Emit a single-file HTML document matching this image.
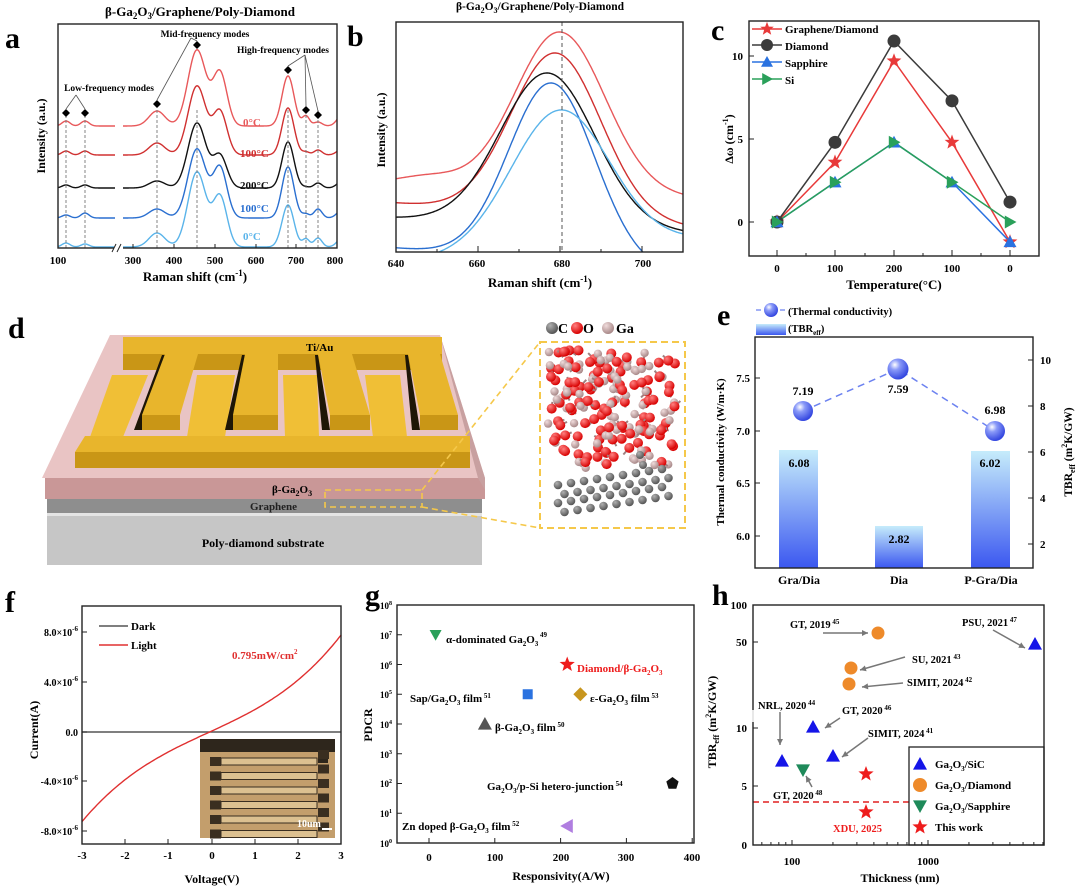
<!DOCTYPE html>
<html><head><meta charset="utf-8">
<style>
html,body{margin:0;padding:0;background:#fff;}
svg{display:block;font-family:"Liberation Serif",serif;font-weight:bold;}
</style></head><body>
<svg id="s" width="1080" height="888" viewBox="0 0 1080 888" xmlns="http://www.w3.org/2000/svg">
<defs>
<linearGradient id="bar" x1="0" y1="0" x2="0" y2="1"><stop offset="0" stop-color="#c6ecfb"/><stop offset="1" stop-color="#3b57f0"/></linearGradient>
<radialGradient id="sph" cx="0.35" cy="0.3" r="0.7"><stop offset="0" stop-color="#ffffff"/><stop offset="0.35" stop-color="#8a9af8"/><stop offset="1" stop-color="#3447e0"/></radialGradient>
<radialGradient id="bO" cx="0.35" cy="0.3" r="0.7"><stop offset="0" stop-color="#ff8080"/><stop offset="1" stop-color="#d80000"/></radialGradient>
<radialGradient id="bG" cx="0.35" cy="0.3" r="0.7"><stop offset="0" stop-color="#f0dcdc"/><stop offset="1" stop-color="#a88888"/></radialGradient>
<radialGradient id="bC" cx="0.35" cy="0.3" r="0.7"><stop offset="0" stop-color="#b0b0b0"/><stop offset="1" stop-color="#555"/></radialGradient>
<clipPath id="ca"><rect x="58" y="24" width="279" height="224"/></clipPath>
<clipPath id="cb"><rect x="396" y="22" width="287" height="230"/></clipPath>
</defs>
<g id="g"></g>

<!-- Panel a texts -->
<text x="5" y="48" font-size="30">a</text>
<text x="200" y="16" font-size="13" text-anchor="middle">β-Ga<tspan font-size="9" dy="3">2</tspan><tspan dy="-3">O</tspan><tspan font-size="9" dy="3">3</tspan><tspan dy="-3">/Graphene/Poly-Diamond</tspan></text>
<g font-size="9.5" text-anchor="middle">
<text x="109" y="91">Low-frequency modes</text>
<text x="205" y="37">Mid-frequency modes</text>
<text x="283" y="53">High-frequency modes</text>
</g>
<g font-size="11">
<text x="243" y="126" fill="#e8585a">0°C</text>
<text x="240" y="157" fill="#d03030">100°C</text>
<text x="240" y="189" fill="#111">200°C</text>
<text x="240" y="212" fill="#2a6fd0">100°C</text>
<text x="243" y="240" fill="#5ab4ea">0°C</text>
</g>
<g font-size="11" text-anchor="middle">
<text x="58" y="264">100</text><text x="133" y="264">300</text><text x="174" y="264">400</text><text x="215" y="264">500</text><text x="256" y="264">600</text><text x="296" y="264">700</text><text x="335" y="264">800</text>
<text x="195" y="281" font-size="13">Raman shift (cm<tspan font-size="9" dy="-5">-1</tspan><tspan dy="5">)</tspan></text>
</g>
<text transform="translate(45,136) rotate(-90)" font-size="12" text-anchor="middle">Intensity (a.u.)</text>

<!-- Panel b texts -->
<text x="347" y="46" font-size="30">b</text>
<text x="540" y="10" font-size="11.5" text-anchor="middle">β-Ga<tspan font-size="8" dy="3">2</tspan><tspan dy="-3">O</tspan><tspan font-size="8" dy="3">3</tspan><tspan dy="-3">/Graphene/Poly-Diamond</tspan></text>
<g font-size="11" text-anchor="middle">
<text x="396" y="267">640</text><text x="477" y="267">660</text><text x="562" y="267">680</text><text x="643" y="267">700</text>
<text x="540" y="287" font-size="13">Raman shift (cm<tspan font-size="9" dy="-5">-1</tspan><tspan dy="5">)</tspan></text>
</g>
<text transform="translate(385,130) rotate(-90)" font-size="12" text-anchor="middle">Intensity (a.u.)</text>

<!-- Panel c texts -->
<text x="711" y="40" font-size="30">c</text>
<g font-size="11">
<text x="785" y="33">Graphene/Diamond</text>
<text x="785" y="50">Diamond</text>
<text x="785" y="67">Sapphire</text>
<text x="785" y="84">Si</text>
</g>
<g font-size="11" text-anchor="end">
<text x="743" y="226">0</text><text x="743" y="143">5</text><text x="743" y="60">10</text>
</g>
<g font-size="11" text-anchor="middle">
<text x="777" y="272">0</text><text x="835" y="272">100</text><text x="894" y="272">200</text><text x="952" y="272">100</text><text x="1010" y="272">0</text>
<text x="894" y="289" font-size="13">Temperature(°C)</text>
</g>
<text transform="translate(733,139) rotate(-90)" font-size="12" text-anchor="middle">Δω (cm<tspan font-size="8" dy="-5">-1</tspan><tspan dy="5">)</tspan></text>

<!-- Panel d -->
<text x="8" y="338" font-size="30">d</text>

<!-- Panel e texts -->
<text x="717" y="325" font-size="30">e</text>
<g font-size="10.5">
<text x="788" y="315">(Thermal conductivity)</text>
<text x="788" y="332">(TBR<tspan font-size="7" dy="3">eff</tspan><tspan dy="-3">)</tspan></text>
</g>
<g font-size="11" text-anchor="end">
<text x="750" y="382">7.5</text><text x="750" y="435">7.0</text><text x="750" y="487">6.5</text><text x="750" y="540">6.0</text>
</g>
<g font-size="11">
<text x="1040" y="364">10</text><text x="1040" y="410">8</text><text x="1040" y="456">6</text><text x="1040" y="502">4</text><text x="1040" y="548">2</text>
</g>
<g font-size="12" text-anchor="middle">
<text x="803" y="395">7.19</text><text x="898" y="393">7.59</text><text x="995" y="414">6.98</text>
<text x="799" y="467">6.08</text><text x="899" y="543">2.82</text><text x="990" y="467">6.02</text>
<text x="799" y="584">Gra/Dia</text><text x="899" y="584">Dia</text><text x="991" y="584">P-Gra/Dia</text>
</g>
<text transform="translate(724,452) rotate(-90)" font-size="11" text-anchor="middle">Thermal conductivity (W/m·K)</text>
<text transform="translate(1072,452) rotate(-90)" font-size="11.5" text-anchor="middle">TBR<tspan font-size="8" dy="3">eff</tspan><tspan dy="-3"> (m</tspan><tspan font-size="8" dy="-5">2</tspan><tspan dy="5">K/GW)</tspan></text>

<!-- Panel f texts -->
<text x="5" y="612" font-size="30">f</text>
<g font-size="11">
<text x="131" y="630">Dark</text><text x="131" y="649">Light</text>
<text x="232" y="659" fill="#e03030" font-size="11">0.795mW/cm<tspan font-size="7" dy="-5">2</tspan></text>
</g>
<g font-size="10" text-anchor="end">
<text x="78" y="636">8.0×10<tspan font-size="7" dy="-5">-6</tspan></text>
<text x="78" y="686">4.0×10<tspan font-size="7" dy="-5">-6</tspan></text>
<text x="78" y="736">0.0</text>
<text x="78" y="785">-4.0×10<tspan font-size="7" dy="-5">-6</tspan></text>
<text x="78" y="835">-8.0×10<tspan font-size="7" dy="-5">-6</tspan></text>
</g>
<g font-size="11" text-anchor="middle">
<text x="82" y="859">-3</text><text x="125" y="859">-2</text><text x="168" y="859">-1</text><text x="212" y="859">0</text><text x="255" y="859">1</text><text x="298" y="859">2</text><text x="341" y="859">3</text>
<text x="212" y="883" font-size="12">Voltage(V)</text>
</g>
<text transform="translate(38,730) rotate(-90)" font-size="12" text-anchor="middle">Current(A)</text>

<!-- Panel g texts -->
<text x="365" y="605" font-size="30">g</text>
<g font-size="9" text-anchor="end">
<text x="392" y="609">10<tspan font-size="6" dy="-4">8</tspan></text>
<text x="392" y="639">10<tspan font-size="6" dy="-4">7</tspan></text>
<text x="392" y="669">10<tspan font-size="6" dy="-4">6</tspan></text>
<text x="392" y="698">10<tspan font-size="6" dy="-4">5</tspan></text>
<text x="392" y="728">10<tspan font-size="6" dy="-4">4</tspan></text>
<text x="392" y="758">10<tspan font-size="6" dy="-4">3</tspan></text>
<text x="392" y="787">10<tspan font-size="6" dy="-4">2</tspan></text>
<text x="392" y="817">10<tspan font-size="6" dy="-4">1</tspan></text>
<text x="392" y="847">10<tspan font-size="6" dy="-4">0</tspan></text>
</g>
<g font-size="11" text-anchor="middle">
<text x="429" y="861">0</text><text x="495" y="861">100</text><text x="561" y="861">200</text><text x="626" y="861">300</text><text x="692" y="861">400</text>
<text x="561" y="880" font-size="12">Responsivity(A/W)</text>
</g>
<text transform="translate(372,725) rotate(-90)" font-size="12" text-anchor="middle">PDCR</text>
<g font-size="11">
<text x="446" y="643">α-dominated Ga<tspan font-size="7" dy="3">2</tspan><tspan dy="-3">O</tspan><tspan font-size="7" dy="3">3</tspan><tspan font-size="7" dy="-9"> 49</tspan></text>
<text x="577" y="672" fill="#ee1c1c">Diamond/β-Ga<tspan font-size="7" dy="3">2</tspan><tspan dy="-3">O</tspan><tspan font-size="7" dy="3">3</tspan></text>
<text x="410" y="702">Sap/Ga<tspan font-size="7" dy="3">2</tspan><tspan dy="-3">O</tspan><tspan font-size="7" dy="3">3</tspan><tspan dy="-3"> film</tspan><tspan font-size="7" dy="-4"> 51</tspan></text>
<text x="590" y="702">ε-Ga<tspan font-size="7" dy="3">2</tspan><tspan dy="-3">O</tspan><tspan font-size="7" dy="3">3</tspan><tspan dy="-3"> film</tspan><tspan font-size="7" dy="-4"> 53</tspan></text>
<text x="495" y="731">β-Ga<tspan font-size="7" dy="3">2</tspan><tspan dy="-3">O</tspan><tspan font-size="7" dy="3">3</tspan><tspan dy="-3"> film</tspan><tspan font-size="7" dy="-4"> 50</tspan></text>
<text x="487" y="790">Ga<tspan font-size="7" dy="3">2</tspan><tspan dy="-3">O</tspan><tspan font-size="7" dy="3">3</tspan><tspan dy="-3">/p-Si hetero-junction</tspan><tspan font-size="7" dy="-4"> 54</tspan></text>
<text x="402" y="830">Zn doped β-Ga<tspan font-size="7" dy="3">2</tspan><tspan dy="-3">O</tspan><tspan font-size="7" dy="3">3</tspan><tspan dy="-3"> film</tspan><tspan font-size="7" dy="-4"> 52</tspan></text>
</g>

<!-- Panel h texts -->
<text x="712" y="605" font-size="30">h</text>
<g font-size="11" text-anchor="end">
<text x="747" y="609">100</text><text x="747" y="646">50</text><text x="747" y="732">10</text><text x="747" y="790">5</text><text x="747" y="849">0</text>
</g>
<g font-size="11" text-anchor="middle">
<text x="792" y="865">100</text><text x="928" y="865">1000</text>
<text x="900" y="882" font-size="12">Thickness (nm)</text>
</g>
<text transform="translate(716,722) rotate(-90)" font-size="12" text-anchor="middle">TBR<tspan font-size="8" dy="3">eff</tspan><tspan dy="-3"> (m</tspan><tspan font-size="8" dy="-5">2</tspan><tspan dy="5">K/GW)</tspan></text>
<g font-size="10.5">
<text x="790" y="628">GT, 2019<tspan font-size="7" dy="-4"> 45</tspan></text>
<text x="962" y="626">PSU, 2021<tspan font-size="7" dy="-4"> 47</tspan></text>
<text x="912" y="663">SU, 2021<tspan font-size="7" dy="-4"> 43</tspan></text>
<text x="907" y="686">SIMIT, 2024<tspan font-size="7" dy="-4"> 42</tspan></text>
<text x="758" y="709">NRL, 2020<tspan font-size="7" dy="-4"> 44</tspan></text>
<text x="842" y="714">GT, 2020<tspan font-size="7" dy="-4"> 46</tspan></text>
<text x="868" y="737">SIMIT, 2024<tspan font-size="7" dy="-4"> 41</tspan></text>
<text x="773" y="799">GT, 2020<tspan font-size="7" dy="-4"> 48</tspan></text>
<text x="833" y="832" fill="#ee1c1c">XDU, 2025</text>
</g>
<g font-size="11">
<text x="935" y="768">Ga<tspan font-size="7" dy="3">2</tspan><tspan dy="-3">O</tspan><tspan font-size="7" dy="3">3</tspan><tspan dy="-3">/SiC</tspan></text>
<text x="935" y="789">Ga<tspan font-size="7" dy="3">2</tspan><tspan dy="-3">O</tspan><tspan font-size="7" dy="3">3</tspan><tspan dy="-3">/Diamond</tspan></text>
<text x="935" y="810">Ga<tspan font-size="7" dy="3">2</tspan><tspan dy="-3">O</tspan><tspan font-size="7" dy="3">3</tspan><tspan dy="-3">/Sapphire</tspan></text>
<text x="935" y="831">This work</text>
</g>
<g font-size="11">
<text x="306" y="351">Ti/Au</text>
<text x="272" y="493">β-Ga<tspan font-size="8" dy="3">2</tspan><tspan dy="-3">O</tspan><tspan font-size="8" dy="3">3</tspan></text>
<text x="250" y="510" fill="#222">Graphene</text>
<text x="263" y="547" text-anchor="middle" font-size="12">Poly-diamond substrate</text>
<text x="558" y="333" font-size="14">C</text><text x="583" y="333" font-size="14">O</text><text x="616" y="333" font-size="14">Ga</text>
<text x="297" y="827" fill="#fff" font-size="10">10um</text>
</g>
</svg>
<script>
(function(){
var G=document.getElementById('g');
var out=[];
function P(s){out.push(s);}
function line(x1,y1,x2,y2,c,w,d){P('<line x1="'+x1+'" y1="'+y1+'" x2="'+x2+'" y2="'+y2+'" stroke="'+c+'" stroke-width="'+(w||1)+'"'+(d?' stroke-dasharray="'+d+'"':'')+'/>');}
function rect(x,y,w,h,f,s,sw){P('<rect x="'+x+'" y="'+y+'" width="'+w+'" height="'+h+'" fill="'+f+'"'+(s?' stroke="'+s+'" stroke-width="'+(sw||1.3)+'"':'')+'/>');}
function path(d,c,w,f,extra){P('<path d="'+d+'" stroke="'+c+'" stroke-width="'+(w||1.3)+'" fill="'+(f||'none')+'" '+(extra||'')+'/>');}
function poly(pts,f,s){P('<polygon points="'+pts+'" fill="'+f+'"'+(s?' stroke="'+s+'" stroke-width="0.8"':'')+'/>');}
function circ(x,y,r,f,s){P('<circle cx="'+x+'" cy="'+y+'" r="'+r+'" fill="'+f+'"'+(s?' stroke="'+s+'"':'')+'/>');}
function star(x,y,r,f){var p=[];for(var i=0;i<10;i++){var a=-Math.PI/2+i*Math.PI/5,rr=i%2?r*0.42:r;p.push((x+rr*Math.cos(a)).toFixed(1)+','+(y+rr*Math.sin(a)).toFixed(1));}poly(p.join(' '),f);}
function tri(x,y,r,f,dir){var p;if(dir=='up')p=[[x,y-r],[x+r,y+r*0.8],[x-r,y+r*0.8]];else if(dir=='down')p=[[x,y+r],[x+r,y-r*0.8],[x-r,y-r*0.8]];else if(dir=='right')p=[[x+r,y],[x-r*0.8,y-r],[x-r*0.8,y+r]];else p=[[x-r,y],[x+r*0.8,y-r],[x+r*0.8,y+r]];poly(p.map(function(q){return q[0].toFixed(1)+','+q[1].toFixed(1)}).join(' '),f);}
function diamondM(x,y,r,f){poly((x)+','+(y-r)+' '+(x+r)+','+y+' '+x+','+(y+r)+' '+(x-r)+','+y,f);}
function g(x,c,s){return Math.exp(-(x-c)*(x-c)/(2*s*s));}

// ---------- Panel a ----------
var pk=[66,85,157,197,220,288,306,318,345],sg=[4,4,8,9,7,6,3.5,4,6];
var A=[
 ['#e8585a',126,[121,121,111,50,73,76,116,122,110]],
 ['#d03030',155,[151,151,143,86,112,108,152,150,146]],
 ['#111111',188,[185,185,181,123,156,142,187,183,178]],
 ['#2a6fd0',218,[215,213,209,149,168,167,214,209,206]],
 ['#5ab4ea',247,[243,244,233,172,197,205,239,238,234]]];
P('<g clip-path="url(#ca)">');
A.forEach(function(c){
 var segs=[[58,115],[123,340]];
 segs.forEach(function(sg2){var d='';for(var x=sg2[0];x<=sg2[1];x+=0.5){var y=c[1];for(var i=0;i<pk.length;i++){y-=(c[1]-c[2][i])*g(x,pk[i],sg[i]);}d+=(d?'L':'M')+x+','+y.toFixed(2);}path(d,c[0],1.4);});
});
P('</g>');
[66,85,157,197,288,306,318].forEach(function(x){line(x,110,x,248,'#777',0.9,'3,2');});
[[66,113],[85,113],[157,104],[197,45],[288,70],[306,110],[318,115]].forEach(function(p){diamondM(p[0],p[1],4,'#000');});
line(76,95,66,109,'#555',0.8);line(76,95,85,109,'#555',0.8);
line(191,38,157,100,'#555',0.8);line(191,38,197,41,'#555',0.8);
line(305,55,288,66,'#555',0.8);line(305,55,306,106,'#555',0.8);line(305,55,318,111,'#555',0.8);
rect(58,24,279,224,'none','#222',1.4);
rect(114,244,9,8,'#fff');
line(112,252,116,244,'#222',1);line(117,252,121,244,'#222',1);
[58,133,174,215,256,296].forEach(function(x){line(x,248,x,244,'#222',1);});

// ---------- Panel b ----------
function bx(v){return 396+(v-640)*4.1;}
var B=[['#e8585a',185,198,32,680,11],['#d03030',203,227,53,679,11],['#111',218,233,73,677,11.5],['#2a6fd0',248,275,83,678,10.5],['#5ab4ea',262,240,110,680,12]];
P('<g clip-path="url(#cb)">');
B.forEach(function(c){var d='';for(var v=638;v<=712;v+=0.25){var base=c[1]+(c[2]-c[1])*(v-640)/70;var bp=c[1]+(c[2]-c[1])*(c[4]-640)/70;var Am=bp-c[3];var y=base-Am*g(v,c[4],c[5]);if(c[0]=='#e8585a'){y-=10*g(v,648,8);}d+=(d?'L':'M')+bx(v).toFixed(1)+','+y.toFixed(2);}path(d,c[0],1.4);});
P('</g>');
line(562,22,562,252,'#555',1,'4,3');
rect(396,22,287,230,'none','#222',1.4);
[640,650,660,670,680,690,700].forEach(function(v,i){line(bx(v),252,bx(v),i%2?249:246,'#222',1);});

// ---------- Panel c ----------
var cx=[777,835,894,952,1010];function cy(v){return 222-v*16.6;}
var C=[['#e83a3a','star',[0,3.6,9.7,4.8,-1.2]],['#3b3b3b','circ',[0,4.8,10.9,7.3,1.2]],['#2a72e0','up',[0,2.4,4.8,2.4,-1.2]],['#2aa05a','right',[0,2.4,4.8,2.4,0]]];
function mk(t,x,y,c,r){if(t=='star')star(x,y,r*1.2,c);else if(t=='circ')circ(x,y,r,c);else tri(x,y,r,c,t);}
C.forEach(function(s){var d='';s[2].forEach(function(v,i){d+=(i?'L':'M')+cx[i]+','+cy(v);});path(d,s[0],1.5);});
C.forEach(function(s){s[2].forEach(function(v,i){mk(s[1],cx[i],cy(v),s[0],6.5);});});
C.forEach(function(s,i){var y=[29,45,62,79][i];line(752,y,782,y,s[0],1.5);mk(s[1],767,y,s[0],6);});
rect(749,21,290,235,'none','#222',1.4);
[777,806,835,865,894,923,952,981,1010].forEach(function(x,i){line(x,256,x,i%2?253:250,'#222',1);});
[222,139,56].forEach(function(y){line(749,y,754,y,'#222',1);});

// ---------- Panel d ----------
poly('47,513 482,513 482,565 47,565','#c6c6c6');
poly('47,513 482,513 482,516 47,516','#e4e4e4');
poly('47,499 482,499 482,513 47,513','#8e8e8e');
poly('45,478 485,478 485,499 45,499','#c99797');
poly('110,335 440,335 485,478 42,478','#e9c4c4');
poly('440,335 485,478 485,490 478,478','#c8a0a0');
var au='#e8b52c',auD='#c99616',auL='#f0bf36';
// top bar
poly('123,337 442,337 442,370 123,370',au);
poly('123,354 442,354 442,370 123,370',auD);
// standing fingers (from bottom bar)
[[112,148,90,123],[197,235,187,225],[283,317,285,319],[365,400,373,407]].forEach(function(f){
 poly(f[0]+',375 '+f[1]+',375 '+f[3]+',437 '+f[2]+',437',auL);
});
// hanging fingers
[[165,198,142,180],[245,278,233,278],[318,352,330,370],[408,440,420,458]].forEach(function(f){
 poly((f[2]-8)+',430 '+f[2]+',430 '+f[0]+',355 '+(f[0]-3)+',355','#1e1606');
 poly(f[0]+',354 '+f[1]+',354 '+f[3]+',415 '+f[2]+',415',au);
 poly(f[2]+',415 '+f[3]+',415 '+f[3]+',430 '+f[2]+',430',auD);
});
// bottom bar
poly('85,436 470,436 470,452 75,452',au);
poly('75,452 470,452 470,468 75,468',auD);
// dashed selection
P('<rect x="325" y="490" width="97" height="17" fill="none" stroke="#f5c84a" stroke-width="1.6" stroke-dasharray="6,4"/>');
line(422,490,540,342,'#f5c84a',1.6,'6,4');line(422,507,540,528,'#f5c84a',1.6,'6,4');
P('<rect x="540" y="342" width="145" height="186" fill="#fff" stroke="#f5c84a" stroke-width="2" stroke-dasharray="7,4"/>');
circ(552,328,6,'url(#bC)');circ(577,328,6,'url(#bO)');circ(608,328,6,'url(#bG)');
var seed=7;function rnd(){seed=(seed*9301+49297)%233280;return seed/233280;}
for(var i=0;i<190;i++){var x=548+rnd()*128,y=350+rnd()*118;var isGa=rnd()<0.35;
 if(!isGa){line(x,y,x+(rnd()-0.5)*14,y+(rnd()-0.5)*14,'#a08080',2);}
 circ(x.toFixed(1),y.toFixed(1),isGa?4.2:5,isGa?'url(#bG)':'url(#bO)');}
for(var r=0;r<4;r++){for(var k=0;k<9;k++){var x=558+k*13+(r%2)*6.5,y=485+r*9-(k*2);if(x<678)circ(x,y,4.3,'url(#bC)');}}
circ(640,455,4,'url(#bC)');circ(643,465,4,'url(#bC)');

// ---------- Panel e ----------
rect(779,450,39,118,'url(#bar)');rect(875,526,48,42,'url(#bar)');rect(971,451,39,117,'url(#bar)');
path('M803,411 L898,369 L995,431','#6c82f0',1.5,'none','stroke-dasharray="7,5"');
circ(803,411,10,'url(#sph)');circ(898,369,10.5,'url(#sph)');circ(995,431,10,'url(#sph)');
line(756,310,786,310,'#6c82f0',1.3,'5,3');circ(771,310,7,'url(#sph)');
rect(756,324,30,11,'url(#bar)');
rect(755,337,278,231,'none','#222',1.4);
[378,431,483,536].forEach(function(y){line(755,y,760,y,'#222',1);});
[360,406,452,498,544].forEach(function(y){line(1033,y,1028,y,'#222',1);});

// ---------- Panel f ----------
function fx(v){return 82+(v+3)*43.2;}function fy(i){return 732-i*12.45;}
line(82,732,341,732,'#555',1.4);
var d='';for(var v=-3;v<=3.001;v+=0.05){var I=1.6*v+0.1*v*v*v+0.025*v*v+0.075;d+=(d?'L':'M')+fx(v).toFixed(1)+','+fy(I).toFixed(1);}path(d,'#e03030',1.4);
line(99,626,128,626,'#555',1.5);line(99,645,128,645,'#e03030',1.5);
// inset: tan background, dark top strip, dark finger outlines
rect(200,739,135,99,'#c39e6c');
rect(200,739,135,13,'#2e261c');
rect(318,739,10,24,'#2e261c');
for(var k=0;k<6;k++){var yy=757+k*14.5;
 // finger from left (dark pad + tan finger with dark outline)
 rect(210,yy,11,9,'#3a2e20');
 rect(221,yy+1,96,7,'#dcc090','#3a2e20',1);
 rect(318,yy-7,11,9,'#3a2e20');
}
rect(322,828,10,2,'#fff');
rect(82,606,259,238,'none','#222',1.4);
[82,125,168,212,255,298,341].forEach(function(x){line(x,844,x,839,'#222',1);});
[632,682,732,781,831].forEach(function(y){line(82,y,87,y,'#222',1);});

// ---------- Panel g ----------
function gx(v){return 429+v*0.658;}function gy(e){return 843-e*29.75;}
tri(gx(10),gy(7),6,'#2aa05a','down');
star(gx(210),gy(6),8,'#ee1c1c');
rect(gx(150)-5,gy(5)-5,10,10,'#2a72e0');
diamondM(gx(230),gy(5),7,'#c8961e');
tri(gx(85),gy(4),7,'#555','up');
(function(){var x=gx(370),y=gy(2),r=6.5,p=[];for(var i=0;i<5;i++){var a=-Math.PI/2+i*2*Math.PI/5;p.push((x+r*Math.cos(a)).toFixed(1)+','+(y+r*Math.sin(a)).toFixed(1));}poly(p.join(' '),'#111');})();
tri(gx(210),826,7,'#b07ee0','left');
rect(397,605,297,238,'none','#222',1.4);
for(var e=0;e<=8;e++){line(397,gy(e),402,gy(e),'#222',1);}
[0,100,200,300,400].forEach(function(v){line(gx(v),843,gx(v),838,'#222',1);});

// ---------- Panel h ----------
function hx(t){return 792+Math.log10(t/100)*136;}
line(753,802,909,802,'#e02020',1.5,'6,4');
circ(878,633,6.5,'#ee8a2a');circ(851,668,6.5,'#ee8a2a');circ(849,684,6.5,'#ee8a2a');
tri(1035,644,7,'#1515e8','up');tri(813,727,7,'#1515e8','up');tri(782,761,7,'#1515e8','up');tri(833,756,7,'#1515e8','up');
tri(803,770,7,'#1f8a5a','down');
star(866,774,8,'#ee1c1c');star(866,812,8,'#ee1c1c');
function arr(x1,y1,x2,y2){line(x1,y1,x2,y2,'#777',1.5);var a=Math.atan2(y2-y1,x2-x1),s=6;poly(x2+','+y2+' '+(x2-s*Math.cos(a)+3*Math.sin(a)).toFixed(1)+','+(y2-s*Math.sin(a)-3*Math.cos(a)).toFixed(1)+' '+(x2-s*Math.cos(a)-3*Math.sin(a)).toFixed(1)+','+(y2-s*Math.sin(a)+3*Math.cos(a)).toFixed(1),'#777');}
arr(823,633,868,633);arr(993,630,1025,648);arr(905,657,860,670);arr(903,683,862,687);arr(780,712,780,745);arr(840,718,825,728);arr(868,738,842,757);arr(812,787,806,776);
rect(909,747,135,98,'#fff','#222',1.3);
tri(920,764,7,'#1515e8','up');circ(920,785,7,'#ee8a2a');tri(920,806,7,'#1f8a5a','down');star(920,827,8,'#ee1c1c');
rect(753,605,291,240,'none','#222',1.4);
[605,642,728,786,845].forEach(function(y){line(753,y,758,y,'#222',1);});
[50,60,70,80,90,100,200,300,400,500,600,700,800,900,1000,2000,3000,4000,5000,6000,7000].forEach(function(t){var x=hx(t);if(x>753&&x<1044)line(x,845,x,(t==100||t==1000)?840:842,'#222',1);});
line(753,710,753,722,'#fff',1.5);
G.innerHTML=out.join('');
})();
</script>
</body></html>
